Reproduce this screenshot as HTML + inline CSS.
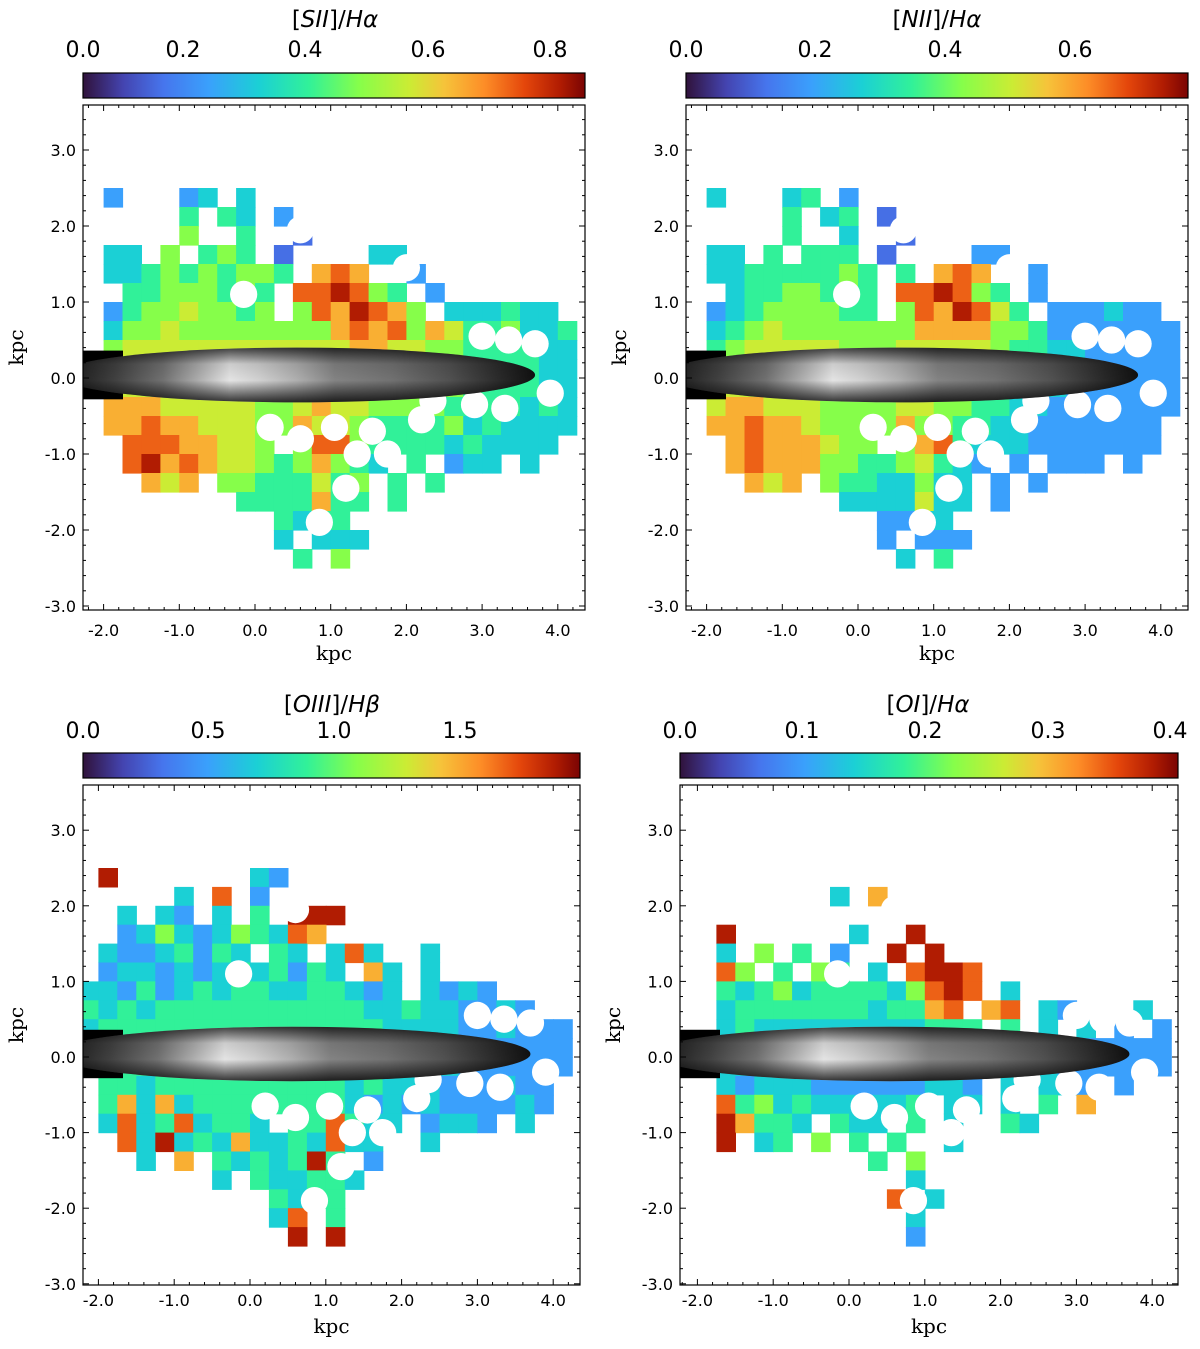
<!DOCTYPE html>
<html><head><meta charset="utf-8">
<style>
html,body{margin:0;padding:0;background:#fff;}
svg{display:block;}
text{font-family:"DejaVu Sans","Liberation Sans",sans-serif;}
.serif{font-family:"DejaVu Serif","Liberation Serif",serif;}
</style></head>
<body>
<svg id="fig" width="1200" height="1349" viewBox="0 0 1200 1349" xmlns="http://www.w3.org/2000/svg">
<defs>
<linearGradient id="turbo" x1="0" x2="1" y1="0" y2="0">
<stop offset="0" stop-color="#30123b"/><stop offset="0.08" stop-color="#4444b0"/>
<stop offset="0.16" stop-color="#4675ed"/><stop offset="0.25" stop-color="#3aa0fc"/>
<stop offset="0.35" stop-color="#1bd0d5"/><stop offset="0.45" stop-color="#31f199"/>
<stop offset="0.55" stop-color="#86fe4a"/><stop offset="0.65" stop-color="#cbec34"/>
<stop offset="0.72" stop-color="#f6c33a"/><stop offset="0.8" stop-color="#fd8d27"/>
<stop offset="0.88" stop-color="#e4460b"/><stop offset="0.95" stop-color="#b11c02"/>
<stop offset="1" stop-color="#7a0403"/></linearGradient>
<linearGradient id="galH" x1="0" x2="1" y1="0" y2="0">
<stop offset="0" stop-color="#111"/><stop offset="0.12" stop-color="#444"/>
<stop offset="0.22" stop-color="#777"/><stop offset="0.3" stop-color="#bbb"/>
<stop offset="0.36" stop-color="#f0f0f0"/><stop offset="0.42" stop-color="#dcdcdc"/>
<stop offset="0.5" stop-color="#b8b8b8"/><stop offset="0.58" stop-color="#8a8a8a"/>
<stop offset="0.7" stop-color="#777"/><stop offset="0.82" stop-color="#555"/>
<stop offset="0.93" stop-color="#2a2a2a"/><stop offset="1" stop-color="#111"/></linearGradient>
<linearGradient id="galV" x1="0" x2="0" y1="0" y2="1">
<stop offset="0" stop-color="#000" stop-opacity="0.75"/><stop offset="0.3" stop-color="#000" stop-opacity="0.15"/>
<stop offset="0.6" stop-color="#000" stop-opacity="0.05"/><stop offset="1" stop-color="#000" stop-opacity="0.8"/></linearGradient>
</defs>
</svg>
<script>
// ----- data: value grids (0.25 kpc cells, x from -2.25, rows from y=2.75 downward); digit = colormap fraction*10, '.' = no data
const gridSII = [
"..........................",
".2...23.3.................",
".....4.43.2...............",
".....5..4..1..............",
".33.5.454.1....33.........",
".3345454554.787..2........",
"..44555454.889854.2.......",
".245565545.5879875.333433.",
".3556555555557878576445334",
".5666666666666776655444433",
"66666666666666655555444433",
"66666666666666655555444433",
".7776666655676655554444343",
".7787766655766544445343333",
"..88877665.58854444343333.",
"..89787665457543 4.233.3..",
"...767.55444645 4.4.......",
"........4444744 4.........",
"..........4344............",
"..........3.333...........",
"...........4.5............",
".........................."];
const gridNII = [
"..........................",
".3...34.2.................",
".....4.34.1...............",
".....4..3..1..............",
".33.4.444.1....22.........",
".334444454 4.787..2.......",
"..34455454.889854.2.......",
".234555544.5879864.222322.",
".3456555555577775542222222",
".4566666555666665443322222",
"55666666555555544333222222",
"55666666555555544333222222",
".6776665555665544332222222",
".778776555575544332222222.",
"..78777655.57843332222222 2",
"..78777554456432 2.222.2..",
"...767.54433533 2.2.......",
"........3333633 2.........",
"..........2233............",
"..........2.222...........",
"...........3.4............",
".........................."];
const gridOIII = [
"..........................",
".9.......32...............",
".....3.8.2................",
"..3.32.3.4.999............",
"..23532354387.............",
".32234243 43.383..3.......",
".2332323434243 73.3.......",
"33242343443344323.3232....",
"434344444444444334332232..",
"34444444444444443333223222",
"44444444444444443333222222",
"44444444444444443333222222",
".443444444444434333222322 2",
".473734444444432323222232.",
".383483443.448433.2332.3..",
"..83934373343833..3.......",
"...3.7.4343494 2..........",
".......3.433443...........",
"..........4344............",
"..........38.4............",
"...........9.9............",
".........................."];
const gridOI = [
"..........................",
"..........................",
"........3.7...............",
"..........................",
"..9......3..9.............",
"..3.5.4.2..9.9............",
"..85.4.54.3.8998..........",
"..43453444435898.3........",
"..3444444434478 78.32...3.",
"..34333333333444 4.3.3.2.2",
"33333333333333333333222222",
"33333333333333333333222222",
"..32333222222332 3.332.2..",
"..84534333334 33.3.4.7....",
"..97443.433.4.3..43.......",
"..9.34.5.4.4..3...........",
"..........4.5.............",
"............3.............",
"...........8.3............",
"............3.............",
"............2.............",
".........................."];
// masked star positions (kpc) and radius
const starX = [-0.15,0.6,2.0,3.35,3.0,3.7,0.2,0.6,1.05,1.55,1.35,1.75,1.2,0.85,2.35,3.3,2.9,2.2,3.9];
const starY = [1.1,1.95,1.45,0.5,0.55,0.45,-0.65,-0.8,-0.65,-0.7,-1.0,-1.0,-1.45,-1.9,-0.3,-0.4,-0.35,-0.55,-0.2];
// colorbar tick labels
const cbTicks1 = ["0.0","0.2","0.4","0.6","0.8"];
const cbTicks2 = ["0.0","0.2","0.4","0.6"];
const cbTicks3 = ["0.0","0.5","1.0","1.5"];
const cbTicks4 = ["0.0","0.1","0.2","0.3","0.4"];
const cbVals1 = [0,0.2,0.4,0.6,0.8], cbVals2=[0,0.2,0.4,0.6], cbVals3=[0,0.5,1.0,1.5], cbVals4=[0,0.1,0.2,0.3,0.4];
const xTickVals = [-2,-1,0,1,2,3,4];
const yTickVals = [3,2,1,0,-1,-2,-3];

const NS="http://www.w3.org/2000/svg";
const svg=document.getElementById('fig');
function mk(tag,attrs,parent){const e=document.createElementNS(NS,tag);for(const k in attrs)e.setAttribute(k,attrs[k]);(parent||svg).appendChild(e);return e;}
const stops=[[0,[48,18,59]],[0.08,[68,68,176]],[0.16,[70,117,237]],[0.25,[58,160,252]],[0.35,[27,208,213]],[0.45,[49,241,153]],[0.55,[134,254,74]],[0.65,[203,236,52]],[0.72,[246,195,58]],[0.8,[253,141,39]],[0.88,[228,70,11]],[0.95,[177,28,2]],[1,[122,4,3]]];
function turbo(t){for(let i=1;i<stops.length;i++){if(t<=stops[i][0]){const a=stops[i-1],b=stops[i];const f=(t-a[0])/(b[0]-a[0]);const c=a[1].map((v,j)=>Math.round(v+(b[1][j]-v)*f));return `rgb(${c})`;}}return 'rgb(122,4,3)';}

const panels=[
 {id:'sii',grid:gridSII,ax:[83,585,105,610],x0:255,sx:75.7,y0:378,sy:76,cb:[83,585,73,98],cbT:cbTicks1,cbV:cbVals1,cbPos:[83,183,305,428,550],title:['SII','Hα'],tx:335,ty:27,cbLy:57,xly:636,kly:660},
 {id:'nii',grid:gridNII,ax:[686,1188,105,610],x0:858,sx:75.7,y0:378,sy:76,cb:[686,1188,73,98],cbT:cbTicks2,cbV:cbVals2,cbPos:[686,815,945,1075],title:['NII','Hα'],tx:937,ty:27,cbLy:57,xly:636,kly:660},
 {id:'oiii',grid:gridOIII,ax:[83,580,785,1285],x0:250,sx:75.8,y0:1057,sy:75.6,cb:[83,580,753,778],cbT:cbTicks3,cbV:cbVals3,cbPos:[83,208,334,460],title:['OIII','Hβ'],tx:332,ty:712,cbLy:738,xly:1306,kly:1333},
 {id:'oi',grid:gridOI,ax:[680,1178,785,1285],x0:849,sx:75.8,y0:1057,sy:75.6,cb:[680,1178,753,778],cbT:cbTicks4,cbV:cbVals4,cbPos:[680,802,925,1048,1170],title:['OI','Hα'],tx:928,ty:712,cbLy:738,xly:1306,kly:1333}
];

panels.forEach((p,pi)=>{
 const g=mk('g',{});
 
 
 const X=v=>p.x0+p.sx*v, Y=v=>p.y0-p.sy*v;
 const [ax0,ax1,ay0,ay1]=p.ax;
 const cp=mk('clipPath',{id:'clip'+pi},g);mk('rect',{x:ax0,y:ay0,width:ax1-ax0,height:ay1-ay0},cp);
 const map=mk('g',{'clip-path':`url(#clip${pi})`},g);
 
 
 p.grid.forEach((row,r)=>{
  const yt=2.75-0.25*r;
  for(let c=0;c<26;c++){const ch=row[c];if(!ch||ch==='.'||ch===' ')continue;
   const xl=-2.25+0.25*c;
   const cell=mk('rect',{x:X(xl).toFixed(1),y:Y(yt).toFixed(1),width:(p.sx*0.25+0.6).toFixed(1),height:(p.sy*0.25+0.6).toFixed(1),fill:turbo((+ch+0.5)/10)},map);
   
   
  }
 });
 starX.forEach((sx,i)=>{const s=mk('circle',{cx:X(sx),cy:Y(starY[i]),r:0.18*p.sx,fill:'#fff'},map);
  
  });
 // galaxy disk
 const gx=X(0.55), grx=X(3.7)-gx, gry=0.36*p.sy, gy=Y(0.04);
 mk('rect',{x:ax0,y:gy-gry+3,width:40,height:2*gry-6,fill:'#000'},map);
 const gal=mk('ellipse',{cx:gx,cy:gy,rx:grx,ry:gry,fill:'url(#galH)'},map);
 
 
 mk('ellipse',{cx:gx,cy:gy,rx:grx,ry:gry,fill:'url(#galV)'},map);
 // frame
 const fr=mk('rect',{x:ax0,y:ay0,width:ax1-ax0,height:ay1-ay0,fill:'none',stroke:'#000','stroke-width':1.2},g);
 
 
 // ticks
 for(let v=-2.4;v<=4.4;v+=0.2){const xp=X(v);if(xp<ax0+1||xp>ax1-1)continue;const maj=Math.abs(v-Math.round(v))<1e-6;const L=maj?6:3;
  mk('line',{x1:xp,x2:xp,y1:ay1,y2:ay1-L,stroke:'#000'},g);mk('line',{x1:xp,x2:xp,y1:ay0,y2:ay0+L,stroke:'#000'},g);}
 for(let v=-3.4;v<=3.6;v+=0.2){const yp=Y(v);if(yp<ay0+1||yp>ay1-1)continue;const maj=Math.abs(v-Math.round(v))<1e-6;const L=maj?6:3;
  mk('line',{x1:ax0,x2:ax0+L,y1:yp,y2:yp,stroke:'#000'},g);mk('line',{x1:ax1,x2:ax1-L,y1:yp,y2:yp,stroke:'#000'},g);}
 xTickVals.forEach(v=>{const t=mk('text',{x:X(v),y:p.xly,'text-anchor':'middle','font-size':16},g);t.textContent=v.toFixed(1);
  });
 yTickVals.forEach(v=>{const t=mk('text',{x:ax0-7,y:Y(v)+6,'text-anchor':'end','font-size':16},g);t.textContent=v.toFixed(1);
  });
 const xl=mk('text',{x:(ax0+ax1)/2,y:p.kly,'text-anchor':'middle','font-size':20,class:'serif'},g);xl.textContent='kpc';
 
 const yc=(ay0+ay1)/2-10;
 const yl=mk('text',{x:ax0-60,y:yc,'text-anchor':'middle','font-size':20,class:'serif',transform:`rotate(-90 ${ax0-60} ${yc})`},g);yl.textContent='kpc';
 
 // colorbar
 const [c0,c1,cy0,cy1]=p.cb;
 const cb=mk('rect',{x:c0,y:cy0,width:c1-c0,height:cy1-cy0,fill:'url(#turbo)',stroke:'#000','stroke-width':1.2},g);
 
 p.cbT.forEach((lab,i)=>{const t=mk('text',{x:p.cbPos[i],y:p.cbLy,'text-anchor':'middle','font-size':22},g);t.textContent=lab;
  });
 const ti=mk('text',{x:p.tx,y:p.ty,'text-anchor':'middle','font-size':23},g);
 
 const a=mk('tspan',{},ti);a.textContent='[';
 const b=mk('tspan',{'font-style':'italic'},ti);b.textContent=p.title[0];
 const c=mk('tspan',{},ti);c.textContent=']/';
 const d=mk('tspan',{'font-style':'italic'},ti);d.textContent=p.title[1];
});
</script>
</body></html>
